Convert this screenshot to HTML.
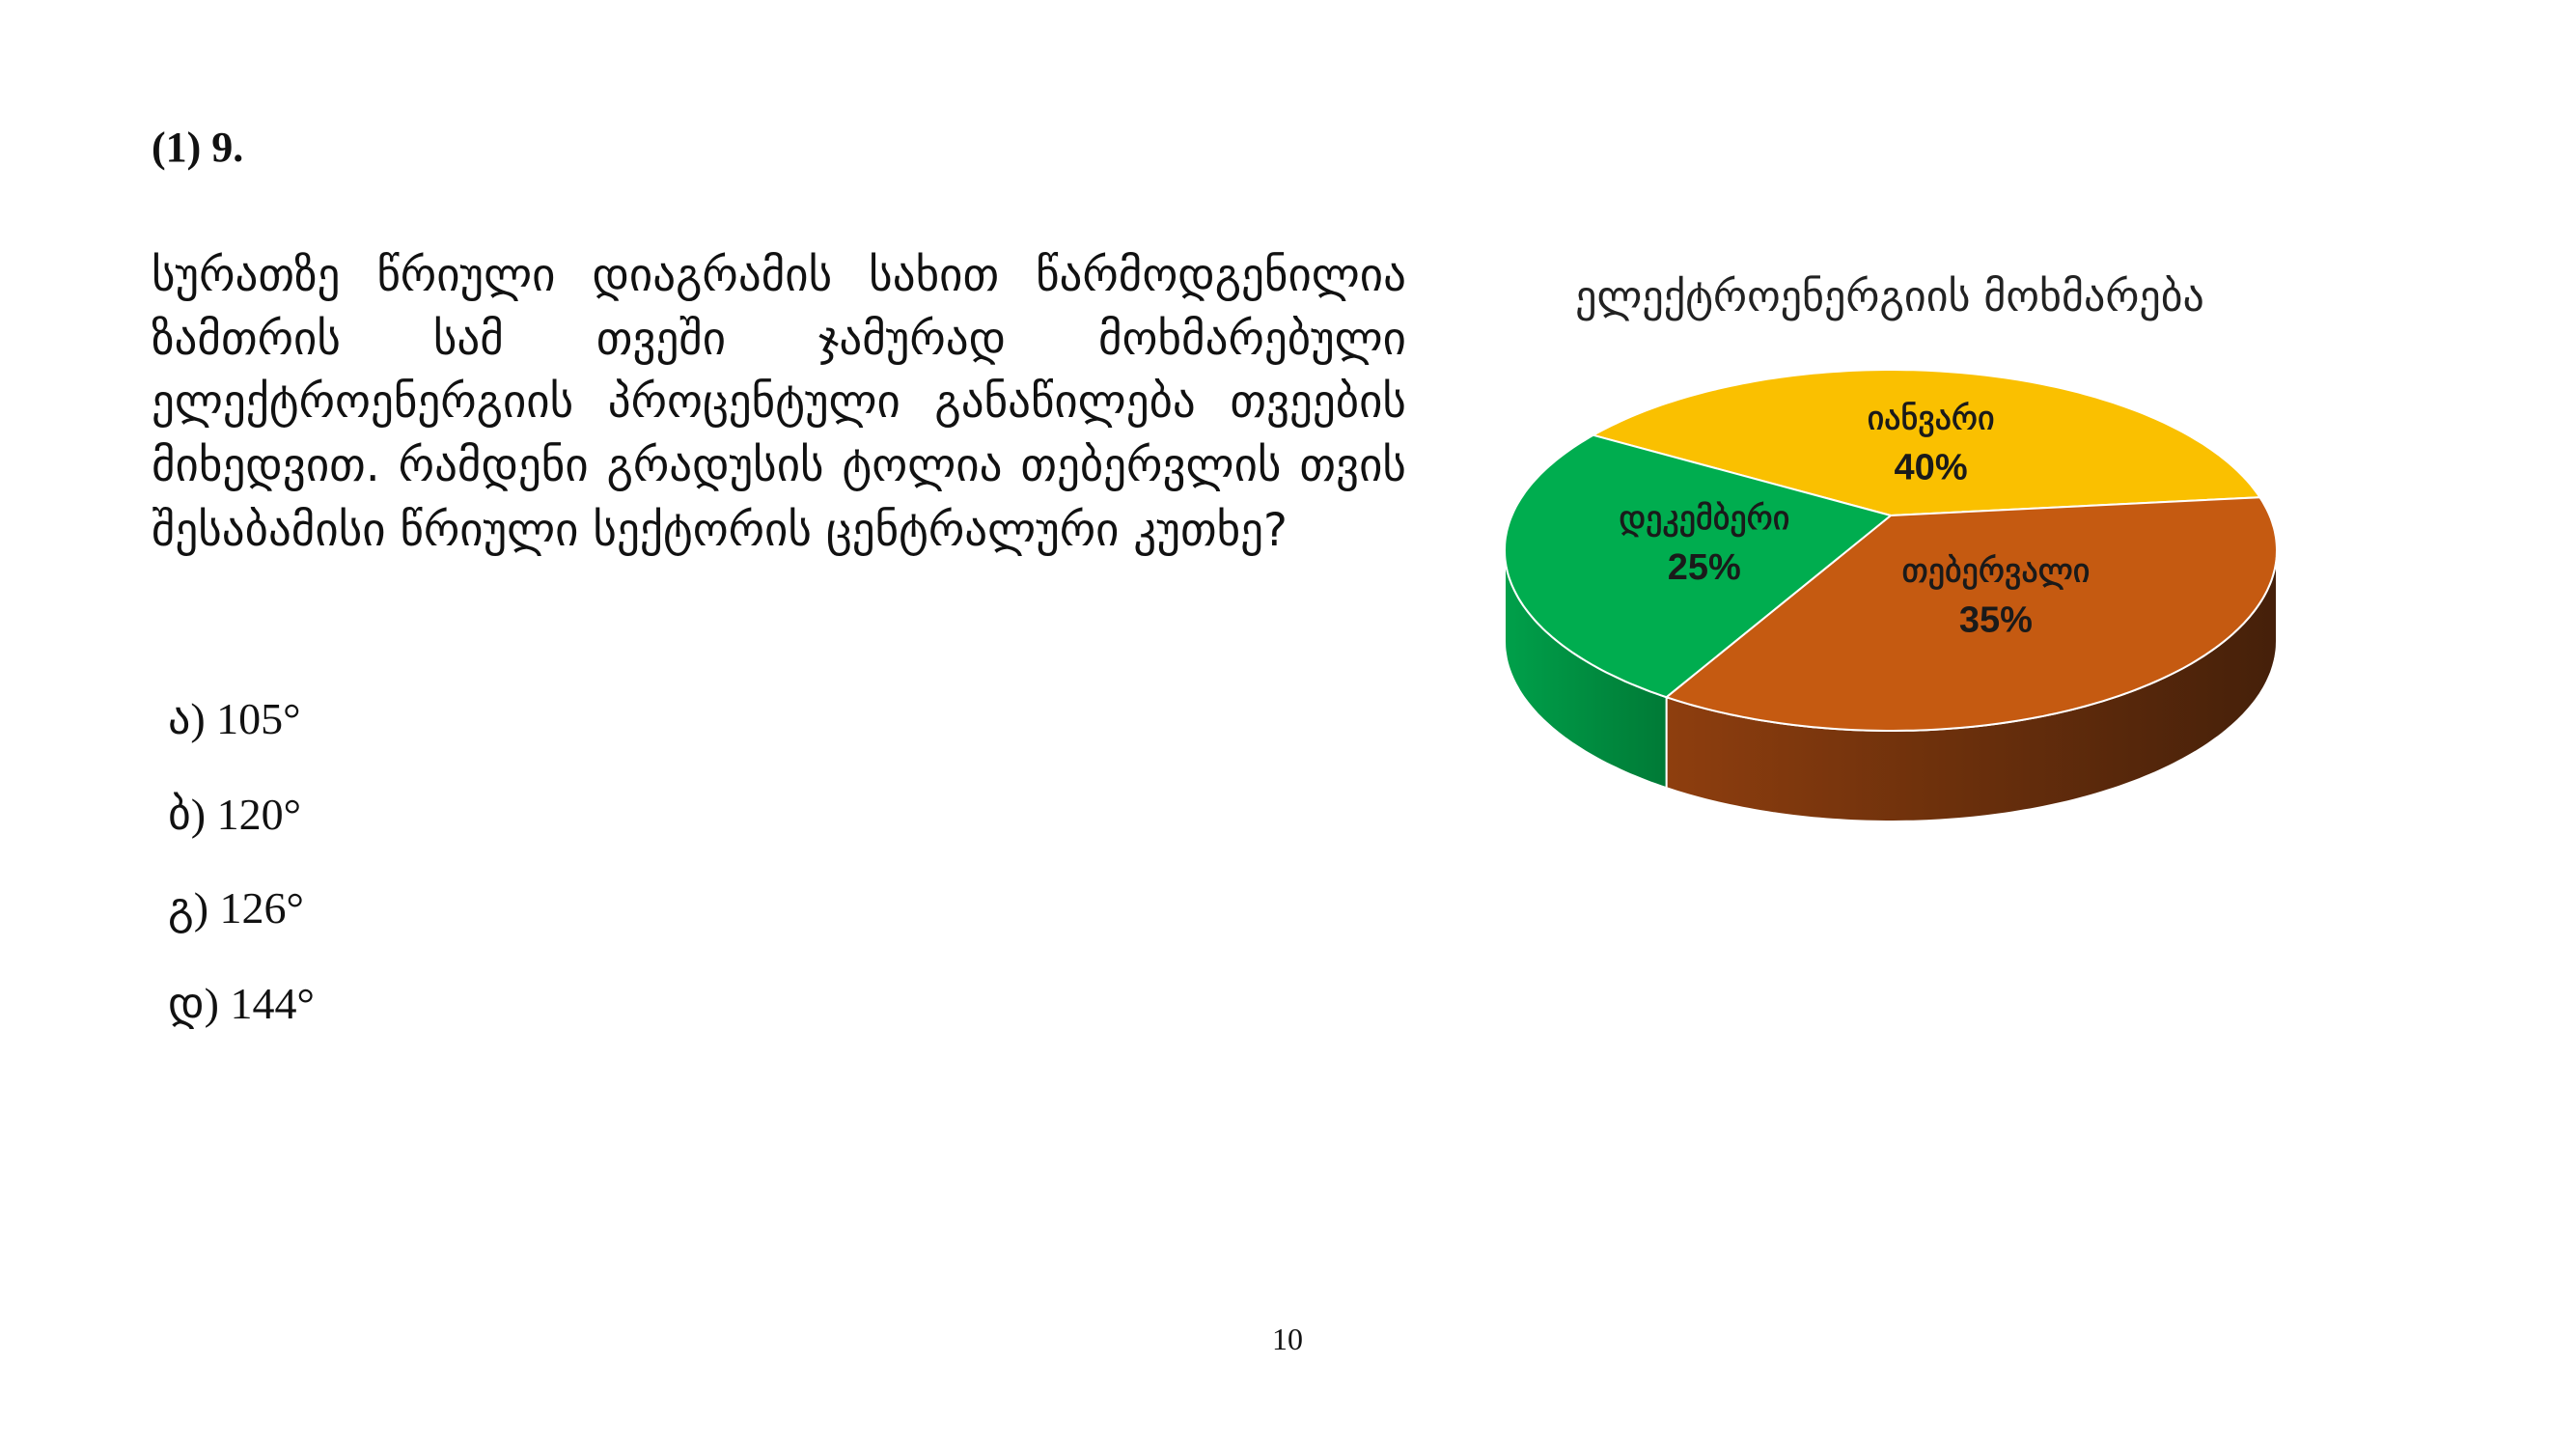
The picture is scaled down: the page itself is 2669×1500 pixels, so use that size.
<!DOCTYPE html>
<html><head><meta charset="utf-8">
<style>
html,body{margin:0;padding:0;background:#fff;}
body{width:2669px;height:1500px;position:relative;overflow:hidden;font-family:"Liberation Serif","DejaVu Sans",serif;color:#111;}
.abs{position:absolute;}
.line{position:absolute;left:157px;width:1300px;height:60px;line-height:60px;font-family:"DejaVu Sans",sans-serif;font-size:47px;white-space:nowrap;text-align:justify;text-align-last:justify;}
.opt{position:absolute;left:174px;height:60px;line-height:60px;font-size:46px;font-family:"Liberation Serif","DejaVu Sans",serif;}
</style></head><body>
<div class="abs" style="left:157px;top:125px;line-height:56px;font-size:44px;font-weight:bold;">(1) 9.</div>
<div>
<div class="line" style="top:256px">სურათზე წრიული დიაგრამის სახით წარმოდგენილია</div>
<div class="line" style="top:322px">ზამთრის სამ თვეში ჯამურად მოხმარებული</div>
<div class="line" style="top:387px">ელექტროენერგიის პროცენტული განაწილება თვეების</div>
<div class="line" style="top:453px">მიხედვით. რამდენი გრადუსის ტოლია თებერვლის თვის</div>
<div class="line" style="top:520px;text-align-last:left;width:auto;">შესაბამისი წრიული სექტორის ცენტრალური კუთხე?</div>
</div>
<div class="opt" style="top:715px">ა) 105°</div>
<div class="opt" style="top:814px">ბ) 120°</div>
<div class="opt" style="top:911px">გ) 126°</div>
<div class="opt" style="top:1010px">დ) 144°</div>
<div class="abs" style="left:1304px;top:1367px;width:60px;text-align:center;font-size:32px;line-height:40px;">10</div>

<svg id="chart" class="abs" style="left:0;top:0" width="2669" height="1500">
<defs>
<linearGradient id="gOr" x1="0" x2="1" y1="0" y2="0"><stop offset="0" stop-color="#8e3e0e"/><stop offset="1" stop-color="#45200a"/></linearGradient>
<linearGradient id="gGr" x1="0" x2="1" y1="0" y2="0"><stop offset="0" stop-color="#00a04a"/><stop offset="1" stop-color="#007a36"/></linearGradient>
</defs>
<text x="1958" y="322" text-anchor="middle" font-family="DejaVu Sans, sans-serif" font-size="44" fill="#222">ელექტროენერგიის მოხმარება</text>
<g id="pie"></g>
</svg>
<script>
const categories = ["იანვარი","თებერვალი","დეკემბერი"];
const values = [40,35,25];
const valueLabels = ["40%","35%","25%"];
const colors = ["#fac000","#c55a11","#00ad4f"];
const sideFills = ["#c99a00","url(#gOr)","url(#gGr)"];
const cx=1959, cy=570, rx=400, ry=187, depth=94, startDeg=-150, apexDy=-36;
const NS="http://www.w3.org/2000/svg";
const g=document.getElementById('pie');
const total=values.reduce((a,b)=>a+b,0);
const ax=cx, ay=cy+apexDy;
function pt(a,dy){const r=a*Math.PI/180;return [cx+rx*Math.cos(r), cy+ry*Math.sin(r)+(dy||0)];}
function toParam(deg){
  const r=deg*Math.PI/180;const dx=Math.cos(r), dy=Math.sin(r)*ry/rx;
  const A=dx*dx/(rx*rx)+dy*dy/(ry*ry), B=2*apexDy*dy/(ry*ry), C=apexDy*apexDy/(ry*ry)-1;
  const t=(-B+Math.sqrt(B*B-4*A*C))/(2*A);
  let p=Math.atan2((apexDy+dy*t)/ry,(dx*t)/rx)*180/Math.PI;
  while(p<deg-180)p+=360;while(p>deg+180)p-=360;return p;
}
function arcPath(a0,a1,dy){let d="";const n=Math.max(2,Math.ceil(Math.abs(a1-a0)));for(let i=0;i<=n;i++){const p=pt(a0+(a1-a0)*i/n,dy);d+=(i?"L":"")+p[0].toFixed(1)+","+p[1].toFixed(1);}return d;}
let dataAngles=[];let a=startDeg;
values.forEach(v=>{const s=a;a+=v/total*360;dataAngles.push([s,a]);});
const angles=dataAngles.map(d=>{let s=toParam(d[0]),e=toParam(d[1]);if(e<s)e+=360;return [s,e];});
angles.forEach((ang,i)=>{
  let s=ang[0],e=ang[1];
  for(let k=-1;k<=1;k++){
    const lo=Math.max(s,0+360*k), hi=Math.min(e,180+360*k);
    if(hi>lo){
      const top=arcPath(lo,hi,0);
      const bot=arcPath(hi,lo,depth);
      const path=document.createElementNS(NS,'path');
      path.setAttribute('d','M'+top+' L'+bot+'Z');
      path.setAttribute('fill',sideFills[i]);
      path.setAttribute('stroke','#fff');path.setAttribute('stroke-width','2');
      
      
      g.appendChild(path);
    }
  }
});
angles.forEach((ang,i)=>{
  const path=document.createElementNS(NS,'path');
  path.setAttribute('d','M'+ax+','+ay+' L'+arcPath(ang[0],ang[1],0)+'Z');
  path.setAttribute('fill',colors[i]);
  path.setAttribute('stroke','#fff');path.setAttribute('stroke-width','2');
  
  
  g.appendChild(path);
});
dataAngles.forEach((ang,i)=>{
  const mid=(ang[0]+ang[1])/2, r=mid*Math.PI/180;
  const lx=ax+rx*0.5*Math.cos(r), ly=ay+ry*0.5*Math.sin(r)+(Math.sin(r)<-0.5?12:0);
  const t1=document.createElementNS(NS,'text');
  t1.setAttribute('x',lx);t1.setAttribute('y',ly-10);
  t1.setAttribute('text-anchor','middle');t1.setAttribute('font-family','DejaVu Sans, sans-serif');
  t1.setAttribute('font-size','34');t1.setAttribute('fill','#1a1a1a');
  t1.setAttribute('stroke','#1a1a1a');t1.setAttribute('stroke-width','0.8');
  t1.textContent=categories[i];
  
  
  g.appendChild(t1);
  const t2=document.createElementNS(NS,'text');
  t2.setAttribute('x',lx);t2.setAttribute('y',ly+42);
  t2.setAttribute('text-anchor','middle');t2.setAttribute('font-family','Liberation Sans Narrow, Liberation Sans, sans-serif');
  t2.setAttribute('font-size','38');t2.setAttribute('font-weight','bold');t2.setAttribute('fill','#1a1a1a');
  t2.textContent=valueLabels[i];
  
  
  g.appendChild(t2);
});
</script>
</body></html>
